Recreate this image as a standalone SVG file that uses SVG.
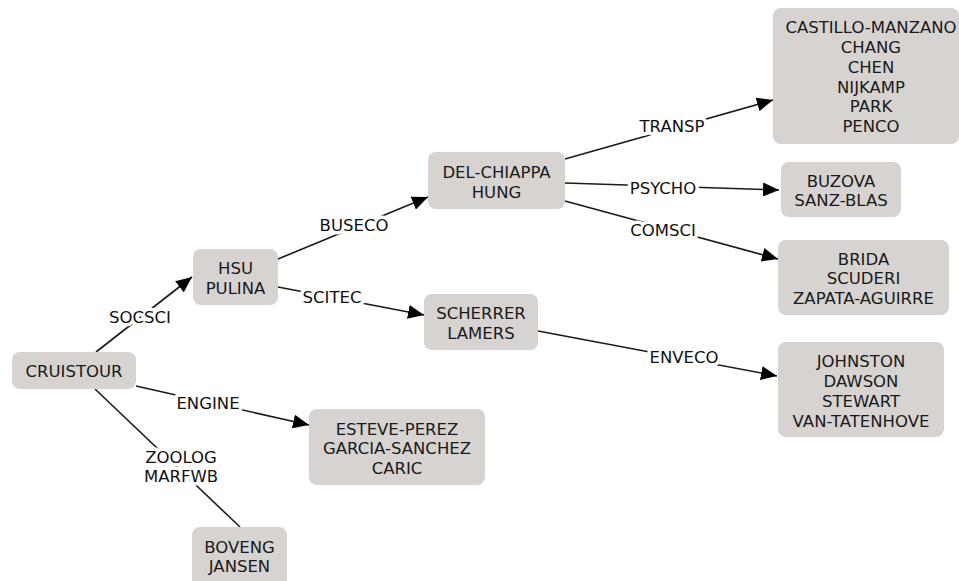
<svg xmlns="http://www.w3.org/2000/svg" width="959" height="581" viewBox="0 0 959 581">
<style>
.box{fill:#d6d3d1;}
.nt{font-family:"DejaVu Sans",Verdana,sans-serif;font-size:16.5px;fill:#1a1a1a;text-anchor:middle;dominant-baseline:central;}
.el{font-family:"DejaVu Sans",Verdana,sans-serif;font-size:16.5px;fill:#111;text-anchor:middle;dominant-baseline:central;stroke:#fff;stroke-width:7px;paint-order:stroke;stroke-linejoin:round;}
.ln{stroke:#1a1a1a;stroke-width:1.6;fill:none;}
</style>
<defs>
<marker id="ah" viewBox="0 0 16 14" refX="16" refY="7" markerWidth="16" markerHeight="14" markerUnits="userSpaceOnUse" orient="auto">
<path d="M0,0 L16,7 L0,14 Z" fill="#000"/>
</marker>
</defs>
<rect width="959" height="581" fill="#fff"/>
<g id="connectors">
<line class="ln" x1="96" y1="352" x2="192" y2="277" marker-end="url(#ah)"/>
<line class="ln" x1="136" y1="386" x2="309" y2="425" marker-end="url(#ah)"/>
<line class="ln" x1="95" y1="389" x2="240" y2="527"/>
<line class="ln" x1="278" y1="259" x2="428" y2="197" marker-end="url(#ah)"/>
<line class="ln" x1="278" y1="287" x2="424" y2="315" marker-end="url(#ah)"/>
<line class="ln" x1="565" y1="159" x2="773" y2="100" marker-end="url(#ah)"/>
<line class="ln" x1="565" y1="183" x2="779" y2="190" marker-end="url(#ah)"/>
<line class="ln" x1="565" y1="201" x2="778" y2="259" marker-end="url(#ah)"/>
<line class="ln" x1="538" y1="331" x2="777" y2="376" marker-end="url(#ah)"/>
<text class="el" x="140" y="317">SOCSCI</text>
<text class="el" x="208" y="403">ENGINE</text>
<text class="el" x="181" y="457">ZOOLOG</text>
<text class="el" x="181" y="476">MARFWB</text>
<text class="el" x="354" y="225">BUSECO</text>
<text class="el" x="332" y="297">SCITEC</text>
<text class="el" x="672" y="126">TRANSP</text>
<text class="el" x="663" y="188">PSYCHO</text>
<text class="el" x="663" y="230">COMSCI</text>
<text class="el" x="684" y="357">ENVECO</text>
</g>
<g id="n-cruistour">
<rect class="box" x="12" y="352" width="124" height="37" rx="8"/>
<text class="nt" x="74" y="371">CRUISTOUR</text>
</g>
<g id="n-hsu">
<rect class="box" x="193" y="249" width="85" height="56" rx="8"/>
<text class="nt" x="235.5" y="268">HSU</text>
<text class="nt" x="235.5" y="288">PULINA</text>
</g>
<g id="n-delchiappa">
<rect class="box" x="428" y="152" width="137" height="57" rx="8"/>
<text class="nt" x="496.5" y="172">DEL-CHIAPPA</text>
<text class="nt" x="496.5" y="192">HUNG</text>
</g>
<g id="n-scherrer">
<rect class="box" x="424" y="294" width="114" height="56" rx="8"/>
<text class="nt" x="481" y="313">SCHERRER</text>
<text class="nt" x="481" y="333">LAMERS</text>
</g>
<g id="n-castillo">
<rect class="box" x="773" y="8" width="186" height="136" rx="8"/>
<text class="nt" x="871" y="27">CASTILLO-MANZANO</text>
<text class="nt" x="871" y="47">CHANG</text>
<text class="nt" x="871" y="67">CHEN</text>
<text class="nt" x="871" y="87">NIJKAMP</text>
<text class="nt" x="871" y="106">PARK</text>
<text class="nt" x="871" y="126">PENCO</text>
</g>
<g id="n-buzova">
<rect class="box" x="781" y="162" width="120" height="55" rx="8"/>
<text class="nt" x="841" y="181">BUZOVA</text>
<text class="nt" x="841" y="200">SANZ-BLAS</text>
</g>
<g id="n-brida">
<rect class="box" x="778" y="240" width="171" height="75" rx="8"/>
<text class="nt" x="863.5" y="259">BRIDA</text>
<text class="nt" x="863.5" y="278">SCUDERI</text>
<text class="nt" x="863.5" y="298">ZAPATA-AGUIRRE</text>
</g>
<g id="n-johnston">
<rect class="box" x="778" y="342" width="166" height="95" rx="8"/>
<text class="nt" x="861" y="361">JOHNSTON</text>
<text class="nt" x="861" y="381">DAWSON</text>
<text class="nt" x="861" y="401">STEWART</text>
<text class="nt" x="861" y="421">VAN-TATENHOVE</text>
</g>
<g id="n-esteve">
<rect class="box" x="309" y="409" width="176" height="76" rx="8"/>
<text class="nt" x="397" y="429">ESTEVE-PEREZ</text>
<text class="nt" x="397" y="448">GARCIA-SANCHEZ</text>
<text class="nt" x="397" y="468">CARIC</text>
</g>
<g id="n-boveng">
<rect class="box" x="192" y="527" width="95" height="62" rx="8"/>
<text class="nt" x="239.5" y="547">BOVENG</text>
<text class="nt" x="239.5" y="566">JANSEN</text>
</g>
</svg>
